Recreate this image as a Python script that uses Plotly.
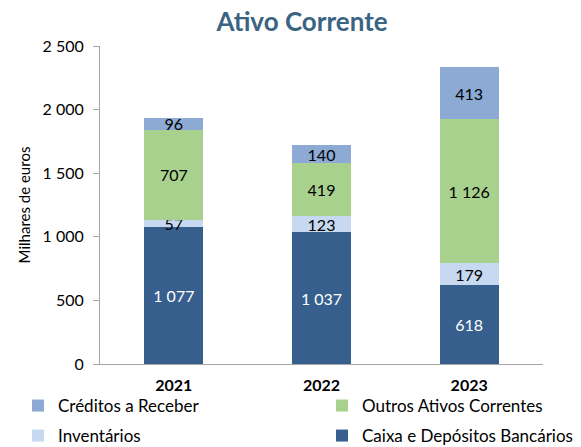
import plotly.graph_objects as go

anos = ["2021", "2022", "2023"]
caixa = [1077, 1037, 618]
inventarios = [57, 123, 179]
outros = [707, 419, 1126]
creditos = [96, 140, 413]

y_ticks = [0, 500, 1000, 1500, 2000, 2500]

FONT = "Lato, 'Open Sans', sans-serif"
W, H = 581, 447

# name, values, fill, label colour, legend id, legend anchor (px from left, px from top)
series = [
    ("Caixa e Depósitos Bancários", caixa, "#375F8E", "white", "legend4", (322, 436)),
    ("Inventários", inventarios, "#C6D9F1", "black", "legend3", (18, 436)),
    ("Outros Ativos Correntes", outros, "#A9D18E", "black", "legend2", (322, 406)),
    ("Créditos a Receber", creditos, "#8CAAD4", "black", "legend", (18, 406)),
]

fig = go.Figure()
legends = {}
for nome, valores, cor, cor_txt, leg, (lx, ly) in series:
    fig.add_trace(go.Bar(
        name=nome, x=anos, y=valores,
        marker=dict(color=cor, line=dict(width=0)),
        texttemplate="%{y:,d}", textposition="inside",
        insidetextanchor="middle", textangle=0,
        insidetextfont=dict(color=cor_txt, size=16, family=FONT),
        constraintext="none",
        legend=leg,
    ))
    legends[leg] = dict(
        orientation="h", xref="container", yref="container",
        x=lx / W, y=1 - ly / H,
        xanchor="left", yanchor="middle",
        font=dict(size=17, family=FONT, color="black"),
        bgcolor="rgba(0,0,0,0)",
    )

fig.update_layout(
    width=W, height=H,
    barmode="stack", bargap=0.6,
    separators=", ",
    paper_bgcolor="white", plot_bgcolor="white",
    margin=dict(l=100, r=38, t=46, b=83, autoexpand=False),
    font=dict(family=FONT, color="black"),
    title=dict(
        text="<b>Ativo Corrente</b>", xref="container", x=302 / W,
        xanchor="center", yref="container", y=1 - 22 / H, yanchor="middle",
        font=dict(size=26, color="#3B6483", family=FONT),
    ),
    xaxis=dict(
        showline=True, linecolor="#A6A6A6", linewidth=1,
        ticks="", tickfont=dict(size=16, family=FONT, color="black"),
        tickprefix="<b>", ticksuffix="</b>",
        ticklabelstandoff=7,
    ),
    yaxis=dict(
        range=[0, 2500], tickvals=y_ticks, tickformat=",d",
        showline=True, linecolor="#A6A6A6", linewidth=1,
        ticks="outside", ticklen=6, tickcolor="#A6A6A6",
        ticklabelstandoff=6,
        showgrid=False, zeroline=False,
        tickfont=dict(size=16, family=FONT, color="black"),
        title=dict(text="Milhares de euros", font=dict(size=15, family=FONT), standoff=8),
    ),
    showlegend=True,
    **legends,
)

fig.write_html("out.html")
